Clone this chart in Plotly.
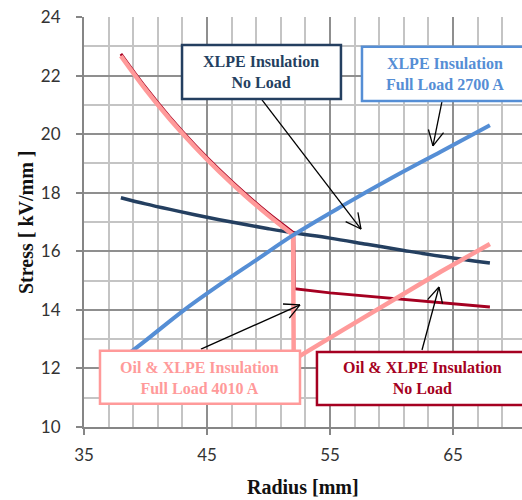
import math
import plotly.graph_objects as go

# ---------------- data ----------------
xlpe_noload_r = [38, 40, 42, 44, 46, 48, 50, 52, 55, 58, 61, 64, 68]
xlpe_noload_e = [17.83, 17.62, 17.43, 17.25, 17.08, 16.92, 16.77, 16.63, 16.45, 16.24, 16.03, 15.83, 15.6]

xlpe_full_r = [38, 40, 43, 46, 49, 52, 56, 60, 64, 68]
xlpe_full_e = [12.3, 12.95, 13.95, 14.85, 15.7, 16.55, 17.55, 18.5, 19.4, 20.3]

oil_noload_r = [38, 40, 42, 44, 46, 48, 50, 52.05, 52.1, 55, 60, 64, 68]
oil_noload_e = [22.74, 21.6, 20.57, 19.64, 18.79, 18.01, 17.29, 16.63, 14.72, 14.58, 14.4, 14.25, 14.1]

oil_full_r = [38, 40, 42, 44, 46, 48, 50, 52.0, 52.05, 56, 60, 64, 68]
oil_full_e = [22.67, 21.53, 20.5, 19.57, 18.72, 17.94, 17.22, 16.56, 12.3, 13.3, 14.3, 15.3, 16.25]

OIL_END = 8   # number of points in the oil region (curved part)

x_ticks = [35, 45, 55, 65]
y_ticks = [10, 12, 14, 16, 18, 20, 22, 24]

labels = ["XLPE Insulation<br>No Load",
          "XLPE Insulation<br>Full Load 2700 A",
          "Oil & XLPE Insulation<br>Full Load 4010 A",
          "Oil & XLPE Insulation<br>No Load"]

NAVY = "#243F60"
BLUE = "#558ED5"
PINK = "#FF9A9A"
DRED = "#A50021"

# ---------------- layout geometry ----------------
W, H = 522, 500
ML, MR, MT, MB = 84, 0, 17, 73
XR = [35, 35 + (W - ML - MR) / 12.3]
YR = [10, 24]
pw = W - ML - MR
ph = H - MT - MB
sx = pw / (XR[1] - XR[0])   # px per x unit
sy = ph / (YR[1] - YR[0])   # px per y unit

fig = go.Figure()
fig.add_trace(go.Scatter(x=xlpe_noload_r, y=xlpe_noload_e, mode="lines", line_shape="spline",
                         line=dict(color=NAVY, width=3.5)))
# oil & XLPE, no load: curved oil part + linear rest
fig.add_trace(go.Scatter(x=oil_noload_r[:OIL_END], y=oil_noload_e[:OIL_END], mode="lines",
                         line_shape="spline", line=dict(color=DRED, width=3)))
fig.add_trace(go.Scatter(x=oil_noload_r[OIL_END - 1:], y=oil_noload_e[OIL_END - 1:], mode="lines",
                         line=dict(color=DRED, width=3)))
# oil & XLPE, full load
fig.add_trace(go.Scatter(x=oil_full_r[:OIL_END], y=oil_full_e[:OIL_END], mode="lines",
                         line_shape="spline", line=dict(color=PINK, width=4.5)))
fig.add_trace(go.Scatter(x=oil_full_r[OIL_END - 1:], y=oil_full_e[OIL_END - 1:], mode="lines",
                         line=dict(color=PINK, width=4.5)))
fig.add_trace(go.Scatter(x=xlpe_full_r, y=xlpe_full_e, mode="lines", line_shape="spline",
                         line=dict(color=BLUE, width=4)))

shapes = []
annotations = []

# callout boxes: (x0, x1, y0, y1, text x, text y, color, label)
boxes = [
    (42.97, 55.89, 21.20, 23.04, 49.43, 22.12, NAVY, labels[0]),
    (57.60, 71.10, 21.13, 22.98, 64.35, 22.05, BLUE, labels[1]),
    (36.30, 52.56, 10.79, 12.60, 44.43, 11.69, PINK, labels[2]),
    (53.94, 71.18, 10.75, 12.56, 62.56, 11.66, DRED, labels[3]),
]
# arrows: (start x, start y, tip x, tip y)
arrows = [
    (49.47, 21.17, 57.52, 16.76),
    (64.11, 21.13, 63.37, 19.60),
    (44.51, 12.66, 52.56, 14.17),
    (62.48, 12.63, 63.86, 14.78),
]

for (x0, y0, x1, y1) in arrows:
    shapes.append(dict(type="line", xref="x", yref="y", x0=x0, y0=y0, x1=x1, y1=y1,
                       line=dict(color="black", width=1.3), layer="above"))
    # open V head computed in pixel space
    dx = (x1 - x0) * sx
    dy = (y1 - y0) * sy
    ang = math.atan2(dy, dx)
    L = 17
    for da in (math.radians(27), -math.radians(27)):
        a = ang + math.pi + da
        hx = x1 + L * math.cos(a) / sx
        hy = y1 + L * math.sin(a) / sy
        shapes.append(dict(type="line", xref="x", yref="y", x0=x1, y0=y1, x1=hx, y1=hy,
                           line=dict(color="black", width=1.3), layer="above"))

for (x0, x1, y0, y1, tx, ty, col, lab) in boxes:
    shapes.append(dict(type="rect", xref="x", yref="y", x0=x0, x1=x1, y0=y0, y1=y1,
                       fillcolor="white", line=dict(color=col, width=2.5), layer="above"))
    annotations.append(dict(x=tx, y=ty, xref="x", yref="y", text=lab, showarrow=False,
                            align="center",
                            font=dict(family="Liberation Serif", size=16, color=col,
                                      weight="bold")))

# axis titles
annotations.append(dict(x=0.5, y=(MT + ph - 487) / ph, xref="paper", yref="paper",
                        text="Radius [mm]", showarrow=False, yanchor="middle",
                        font=dict(family="Liberation Serif", size=20, color="#111",
                                  weight="bold")))
annotations.append(dict(x=(26 - ML) / pw, y=0.5, xref="paper", yref="paper",
                        text="Stress [ kV/mm ]", showarrow=False, textangle=-90,
                        xanchor="center", yanchor="middle",
                        font=dict(family="Liberation Serif", size=20, color="#111",
                                  weight="bold")))

fig.update_layout(
    width=W, height=H, autosize=False,
    margin=dict(l=ML, r=MR, t=MT, b=MB),
    paper_bgcolor="white", plot_bgcolor="white",
    showlegend=False,
    shapes=shapes, annotations=annotations,
    font=dict(family="Lato", size=17, color="#333"),
)
fig.update_xaxes(
    range=XR, tickvals=x_ticks, ticktext=[str(v) for v in x_ticks],
    showgrid=True, gridcolor="#8f8f8f", gridwidth=2,
    minor=dict(dtick=2, tick0=35, showgrid=True, gridcolor="#c4c4c4", gridwidth=1.8),
    showline=True, linecolor="#868686", linewidth=2,
    ticks="outside", ticklen=6, tickcolor="#868686", tickwidth=2,
    ticklabelstandoff=6, zeroline=False, automargin=False,
)
fig.update_yaxes(
    range=YR, tickvals=y_ticks, ticktext=[str(v) for v in y_ticks],
    showgrid=True, gridcolor="#8f8f8f", gridwidth=2,
    minor=dict(dtick=1, tick0=10, showgrid=True, gridcolor="#c4c4c4", gridwidth=1.8),
    showline=True, linecolor="#868686", linewidth=2,
    ticks="outside", ticklen=6, tickcolor="#868686", tickwidth=2,
    ticklabelstandoff=12, zeroline=False, automargin=False,
)

fig.write_html("out.html", config={"displayModeBar": False},
               post_script="document.body.style.margin='0';document.body.style.overflow='hidden';")
